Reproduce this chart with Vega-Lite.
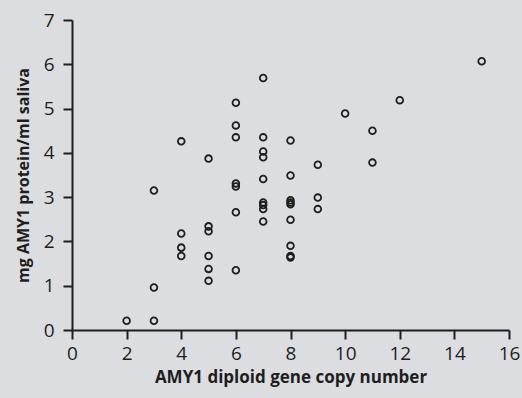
{
  "$schema": "https://vega.github.io/schema/vega-lite/v6.json",
  "width": 437,
  "height": 310,
  "autosize": {"type": "none"},
  "padding": {"left": 72, "top": 20, "right": 13, "bottom": 68},
  "background": "#dcdde0",
  "config": {
    "view": {"stroke": null},
    "font": "Open Sans"
  },
  "data": {
    "values": [
      {"copies": 2, "protein": 0.21},
      {"copies": 3, "protein": 0.21},
      {"copies": 3, "protein": 0.96},
      {"copies": 3, "protein": 3.15},
      {"copies": 4, "protein": 4.26},
      {"copies": 4, "protein": 2.18},
      {"copies": 4, "protein": 1.86},
      {"copies": 4, "protein": 1.67},
      {"copies": 5, "protein": 3.87},
      {"copies": 5, "protein": 2.34},
      {"copies": 5, "protein": 2.23},
      {"copies": 5, "protein": 1.67},
      {"copies": 5, "protein": 1.38},
      {"copies": 5, "protein": 1.11},
      {"copies": 6, "protein": 5.13},
      {"copies": 6, "protein": 4.62},
      {"copies": 6, "protein": 4.35},
      {"copies": 6, "protein": 3.31},
      {"copies": 6, "protein": 3.24},
      {"copies": 6, "protein": 2.66},
      {"copies": 6, "protein": 1.35},
      {"copies": 7, "protein": 5.69},
      {"copies": 7, "protein": 4.35},
      {"copies": 7, "protein": 4.03},
      {"copies": 7, "protein": 3.9},
      {"copies": 7, "protein": 3.41},
      {"copies": 7, "protein": 2.88},
      {"copies": 7, "protein": 2.82},
      {"copies": 7, "protein": 2.73},
      {"copies": 7, "protein": 2.45},
      {"copies": 8, "protein": 4.28},
      {"copies": 8, "protein": 3.49},
      {"copies": 8, "protein": 2.93},
      {"copies": 8, "protein": 2.88},
      {"copies": 8, "protein": 2.84},
      {"copies": 8, "protein": 2.49},
      {"copies": 8, "protein": 1.9},
      {"copies": 8, "protein": 1.67},
      {"copies": 8, "protein": 1.64},
      {"copies": 9, "protein": 3.73},
      {"copies": 9, "protein": 2.99},
      {"copies": 9, "protein": 2.73},
      {"copies": 10, "protein": 4.89},
      {"copies": 11, "protein": 4.5},
      {"copies": 11, "protein": 3.78},
      {"copies": 12, "protein": 5.19},
      {"copies": 15, "protein": 6.07}
    ]
  },
  "mark": {"type": "point", "shape": "circle", "filled": false, "stroke": "#1e1e1e", "strokeWidth": 1.8, "size": 45, "opacity": 1},
  "encoding": {
    "x": {
      "field": "copies", "type": "quantitative",
      "scale": {"domain": [0, 16], "nice": false, "zero": true},
      "axis": {
        "title": "AMY1 diploid gene copy number",
        "values": [0, 2, 4, 6, 8, 10, 12, 14, 16],
        "grid": false,
        "domainColor": "#1e1e1e", "domainWidth": 2,
        "tickColor": "#1e1e1e", "tickWidth": 2, "tickSize": 9,
        "labelFont": "Open Sans", "labelFontSize": 19, "labelColor": "#1e1e1e",
        "labelPadding": 5, "labelFlush": false, "labelOverlap": false,
        "titleFont": "Open Sans", "titleFontSize": 17, "titleFontWeight": "bold", "titleColor": "#1e1e1e",
        "titlePadding": 6
      }
    },
    "y": {
      "field": "protein", "type": "quantitative",
      "scale": {"domain": [0, 7], "nice": false},
      "axis": {
        "title": "mg AMY1 protein/ml saliva",
        "values": [0, 1, 2, 3, 4, 5, 6, 7],
        "grid": false,
        "domainColor": "#1e1e1e", "domainWidth": 2,
        "tickColor": "#1e1e1e", "tickWidth": 2, "tickSize": 9,
        "labelFont": "Open Sans", "labelFontSize": 19, "labelColor": "#1e1e1e",
        "labelPadding": 9, "labelFlush": false, "labelOverlap": false,
        "titleFont": "Open Sans", "titleFontSize": 16, "titleFontWeight": "bold", "titleColor": "#1e1e1e",
        "titlePadding": 12
      }
    }
  }
}
